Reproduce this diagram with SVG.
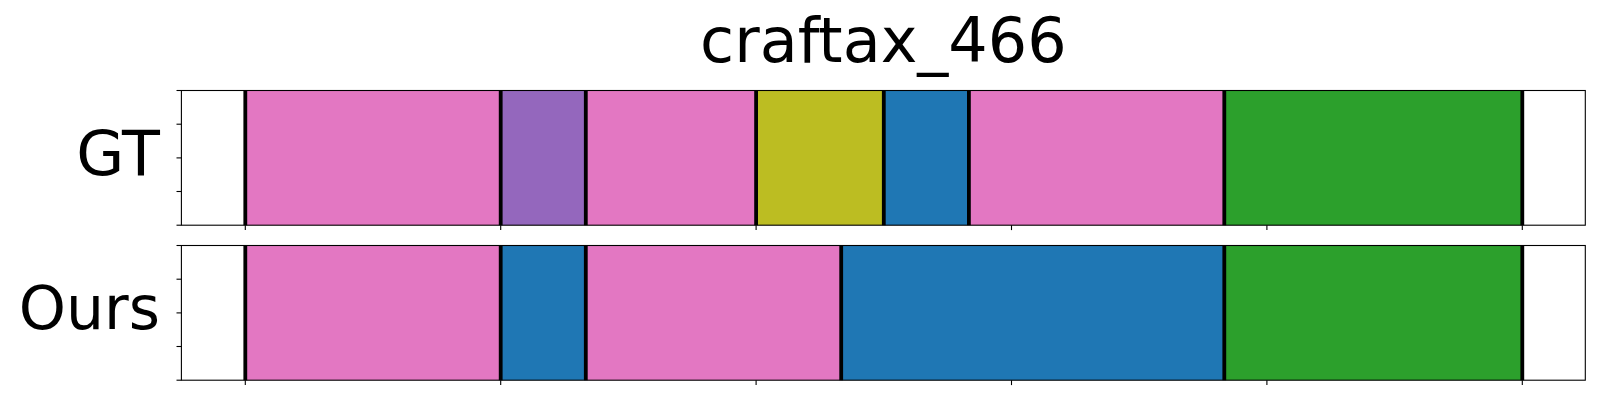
<svg xmlns="http://www.w3.org/2000/svg" width="1600" height="400" viewBox="0 0 1600 400">
<style>
  .lbl{font-family:"DejaVu Sans","Liberation Sans",sans-serif;font-size:62px;fill:#000}
  .spine{fill:none;stroke:#000;stroke-width:1.1}
  .tick{stroke:#000;stroke-width:1.1}
  .bnd{stroke:#000;stroke-width:3.8}
  .pink{fill:#e377c2}.purple{fill:#9467bd}.olive{fill:#bcbd22}.blue{fill:#1f77b4}.green{fill:#2ca02c}
</style>
<rect width="1600" height="400" fill="#fff"/>
<text id="title" class="lbl" x="883.4" y="62" text-anchor="middle">craftax_466</text>

<g id="gt">
  <rect class="pink" x="245.3" y="90.5" width="255.4" height="134.7"/>
  <rect class="purple" x="500.7" y="90.5" width="85.1" height="134.7"/>
  <rect class="pink" x="585.8" y="90.5" width="170.3" height="134.7"/>
  <rect class="olive" x="756.1" y="90.5" width="127.7" height="134.7"/>
  <rect class="blue" x="883.8" y="90.5" width="85.1" height="134.7"/>
  <rect class="pink" x="968.9" y="90.5" width="255.4" height="134.7"/>
  <rect class="green" x="1224.3" y="90.5" width="298" height="134.7"/>
  <g class="bnd">
    <line x1="245.3" y1="90.5" x2="245.3" y2="225.2"/>
    <line x1="500.7" y1="90.5" x2="500.7" y2="225.2"/>
    <line x1="585.8" y1="90.5" x2="585.8" y2="225.2"/>
    <line x1="756.1" y1="90.5" x2="756.1" y2="225.2"/>
    <line x1="883.8" y1="90.5" x2="883.8" y2="225.2"/>
    <line x1="968.9" y1="90.5" x2="968.9" y2="225.2"/>
    <line x1="1224.3" y1="90.5" x2="1224.3" y2="225.2"/>
    <line x1="1522.3" y1="90.5" x2="1522.3" y2="225.2"/>
  </g>
  <rect class="spine" x="181.4" y="90.5" width="1403.9" height="134.7"/>
  <g class="tick">
    <line x1="176.5" y1="90.5" x2="181.4" y2="90.5"/>
    <line x1="176.5" y1="124.2" x2="181.4" y2="124.2"/>
    <line x1="176.5" y1="157.9" x2="181.4" y2="157.9"/>
    <line x1="176.5" y1="191.5" x2="181.4" y2="191.5"/>
    <line x1="176.5" y1="225.2" x2="181.4" y2="225.2"/>
    <line x1="245.3" y1="225.2" x2="245.3" y2="230.1"/>
    <line x1="500.7" y1="225.2" x2="500.7" y2="230.1"/>
    <line x1="756.1" y1="225.2" x2="756.1" y2="230.1"/>
    <line x1="1011.5" y1="225.2" x2="1011.5" y2="230.1"/>
    <line x1="1266.9" y1="225.2" x2="1266.9" y2="230.1"/>
    <line x1="1522.3" y1="225.2" x2="1522.3" y2="230.1"/>
  </g>
  <text class="lbl" x="160" y="175" text-anchor="end">GT</text>
</g>

<g id="ours">
  <rect class="pink" x="245.3" y="245.5" width="255.4" height="134.7"/>
  <rect class="blue" x="500.7" y="245.5" width="85.1" height="134.7"/>
  <rect class="pink" x="585.8" y="245.5" width="255.4" height="134.7"/>
  <rect class="blue" x="841.2" y="245.5" width="383.1" height="134.7"/>
  <rect class="green" x="1224.3" y="245.5" width="298" height="134.7"/>
  <g class="bnd">
    <line x1="245.3" y1="245.5" x2="245.3" y2="380.2"/>
    <line x1="500.7" y1="245.5" x2="500.7" y2="380.2"/>
    <line x1="585.8" y1="245.5" x2="585.8" y2="380.2"/>
    <line x1="841.2" y1="245.5" x2="841.2" y2="380.2"/>
    <line x1="1224.3" y1="245.5" x2="1224.3" y2="380.2"/>
    <line x1="1522.3" y1="245.5" x2="1522.3" y2="380.2"/>
  </g>
  <rect class="spine" x="181.4" y="245.5" width="1403.9" height="134.7"/>
  <g class="tick">
    <line x1="176.5" y1="245.5" x2="181.4" y2="245.5"/>
    <line x1="176.5" y1="279.2" x2="181.4" y2="279.2"/>
    <line x1="176.5" y1="312.9" x2="181.4" y2="312.9"/>
    <line x1="176.5" y1="346.5" x2="181.4" y2="346.5"/>
    <line x1="176.5" y1="380.2" x2="181.4" y2="380.2"/>
    <line x1="245.3" y1="380.2" x2="245.3" y2="385.1"/>
    <line x1="500.7" y1="380.2" x2="500.7" y2="385.1"/>
    <line x1="756.1" y1="380.2" x2="756.1" y2="385.1"/>
    <line x1="1011.5" y1="380.2" x2="1011.5" y2="385.1"/>
    <line x1="1266.9" y1="380.2" x2="1266.9" y2="385.1"/>
    <line x1="1522.3" y1="380.2" x2="1522.3" y2="385.1"/>
  </g>
  <text class="lbl" x="160" y="329" text-anchor="end" style="font-size:60px">Ours</text>
</g>

<g id="connectors"></g>
</svg>
